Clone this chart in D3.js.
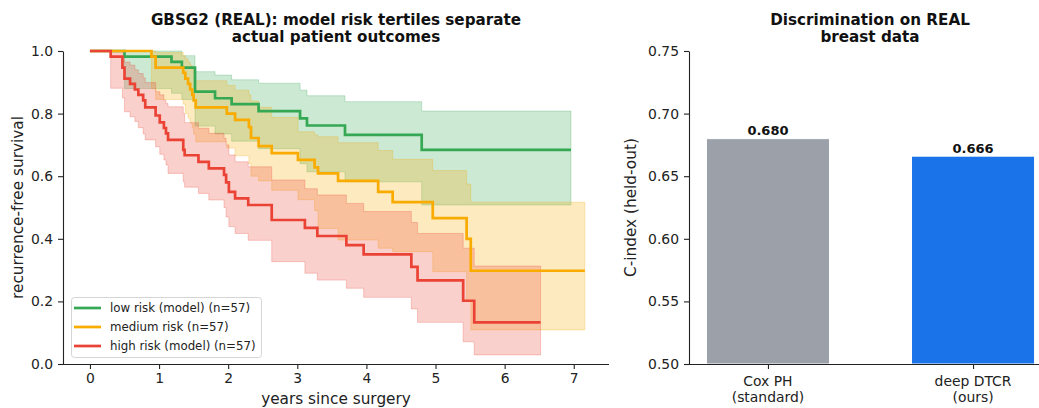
<!DOCTYPE html>
<html><head><meta charset="utf-8">
<script src="https://cdn.jsdelivr.net/npm/d3@7"></script>
<style>
html,body{margin:0;padding:0;background:#fff;}
svg{display:block;font-family:"DejaVu Sans",sans-serif;}
</style></head>
<body><svg id="c" width="1039" height="408"></svg>
<script>
// ---- data ----
const xTicks = [0, 1, 2, 3, 4, 5, 6, 7];
const yTicks = [0.0, 0.2, 0.4, 0.6, 0.8, 1.0];

const lowT  = [0, 0.50, 1.18, 1.33, 1.52, 1.81, 2.05, 2.44, 3.04, 3.14, 3.69, 4.80];
const lowS  = [1, 0.982, 0.965, 0.947, 0.870, 0.849, 0.830, 0.808, 0.785, 0.762, 0.732, 0.684];
const lowHi = [1, 1.0, 1.0, 0.985, 0.934, 0.923, 0.908, 0.897, 0.875, 0.857, 0.838, 0.808];
const lowLo = [1, 0.880, 0.865, 0.845, 0.760, 0.735, 0.712, 0.688, 0.640, 0.614, 0.582, 0.508];
const lowEnd = 6.96;

const medT  = [0, 0.89, 0.95, 1.35, 1.38, 1.42, 1.45, 1.48, 1.50, 1.53, 1.98, 2.10, 2.30, 2.33, 2.44, 2.63, 3.01, 3.25, 3.30, 3.59, 4.17, 4.38, 4.96, 5.45, 5.51];
const medS  = [1, 0.982, 0.947, 0.930, 0.912, 0.895, 0.877, 0.860, 0.842, 0.820, 0.800, 0.780, 0.757, 0.722, 0.696, 0.674, 0.652, 0.628, 0.609, 0.585, 0.550, 0.517, 0.466, 0.400, 0.298];
const medHi = [1, 1.0, 0.995, 0.985, 0.975, 0.965, 0.955, 0.945, 0.930, 0.905, 0.890, 0.875, 0.860, 0.840, 0.820, 0.788, 0.742, 0.732, 0.726, 0.707, 0.682, 0.654, 0.618, 0.575, 0.517];
const medLo = [1, 0.880, 0.845, 0.830, 0.800, 0.785, 0.770, 0.755, 0.735, 0.710, 0.690, 0.665, 0.640, 0.600, 0.585, 0.555, 0.525, 0.490, 0.433, 0.396, 0.370, 0.359, 0.295, 0.200, 0.109];
const medEnd = 7.16;

const highT  = [0, 0.30, 0.47, 0.50, 0.58, 0.65, 0.70, 0.77, 0.80, 0.95, 1.01, 1.07, 1.10, 1.13, 1.35, 1.37, 1.57, 1.72, 1.94, 1.97, 2.01, 2.10, 2.29, 2.63, 3.11, 3.29, 3.71, 3.96, 4.65, 4.74, 5.40, 5.56];
const highS  = [1, 0.982, 0.947, 0.912, 0.895, 0.877, 0.860, 0.842, 0.820, 0.794, 0.772, 0.754, 0.737, 0.716, 0.684, 0.667, 0.646, 0.625, 0.604, 0.580, 0.550, 0.529, 0.508, 0.460, 0.435, 0.409, 0.380, 0.350, 0.310, 0.267, 0.202, 0.133];
const highHi = [1, 1.0, 0.990, 0.965, 0.955, 0.940, 0.928, 0.914, 0.899, 0.870, 0.860, 0.843, 0.832, 0.822, 0.800, 0.771, 0.753, 0.737, 0.721, 0.700, 0.668, 0.646, 0.630, 0.588, 0.560, 0.540, 0.513, 0.487, 0.452, 0.417, 0.370, 0.313];
const highLo = [1, 0.881, 0.850, 0.806, 0.790, 0.775, 0.755, 0.735, 0.716, 0.694, 0.670, 0.652, 0.636, 0.609, 0.582, 0.565, 0.545, 0.524, 0.500, 0.470, 0.439, 0.417, 0.395, 0.327, 0.290, 0.268, 0.242, 0.213, 0.176, 0.133, 0.071, 0.029];
const highEnd = 6.52;

const groupNames = ["low risk (model) (n=57)", "medium risk (n=57)", "high risk (model) (n=57)"];
const groupColors = ["#34a853", "#f9ab00", "#ea4335"];

const models = ["Cox PH|(standard)", "deep DTCR|(ours)"];
const cIndex = [0.680, 0.666];
const barColors = ["#9ca0a8", "#1a73e8"];
const cTicks = [0.50, 0.55, 0.60, 0.65, 0.70, 0.75];

// ---- drawing ----
const svg = d3.select("#c");
const TICKFONT = 13.9, LABELFONT = 15.3, TITLEFONT = 15.2;

// Left panel
const L = {left: 63, right: 609, top: 51, bottom: 364};
const x = d3.scaleLinear().domain([-0.39, 7.51]).range([L.left, L.right]);
const y = d3.scaleLinear().domain([0, 1]).range([L.bottom, L.top]);

function build(T, S, Lo, Hi, end) {
  const pts = T.map((t, i) => ({t, s: S[i], lo: Lo[i], hi: Hi[i]}));
  const last = pts[pts.length - 1];
  pts.push({t: end, s: last.s, lo: last.lo, hi: last.hi});
  return pts;
}
const groups = [
  build(lowT, lowS, lowLo, lowHi, lowEnd),
  build(medT, medS, medLo, medHi, medEnd),
  build(highT, highS, highLo, highHi, highEnd)
];

const area = d3.area().curve(d3.curveStepAfter)
  .x(d => x(d.t)).y0(d => y(d.lo)).y1(d => y(d.hi));
const line = d3.line().curve(d3.curveStepAfter)
  .x(d => x(d.t)).y(d => y(d.s));

const gL = svg.append("g");
groups.forEach((g, i) => {
  gL.append("path").attr("d", area(g))
    .attr("fill", groupColors[i]).attr("fill-opacity", 0.25)
    .attr("stroke", groupColors[i]).attr("stroke-opacity", 0.25).attr("stroke-width", 1);
});
groups.forEach((g, i) => {
  gL.append("path").attr("d", line(g))
    .attr("fill", "none").attr("stroke", groupColors[i]).attr("stroke-width", 2.7);
});

// axes left
const axB = svg.append("g").attr("transform", `translate(0,${L.bottom})`)
  .call(d3.axisBottom(x).tickValues(xTicks).tickFormat(d3.format("d")).tickSize(5).tickPadding(4.5).tickSizeOuter(0));
axB.select(".domain").attr("d", `M${L.left},0.5H${L.right}`);
const axL = svg.append("g").attr("transform", `translate(${L.left},0)`)
  .call(d3.axisLeft(y).tickValues(yTicks).tickFormat(d3.format(".1f")).tickSize(5).tickPadding(5).tickSizeOuter(0));
[axB, axL].forEach(a => {
  a.selectAll("text").attr("font-size", TICKFONT).attr("font-family", "DejaVu Sans").attr("fill", "#222");
  a.selectAll("line,.domain").attr("stroke", "#222").attr("stroke-width", 1.1);
});

svg.append("text").attr("x", (L.left + L.right) / 2).attr("y", 404)
  .attr("text-anchor", "middle").attr("font-size", LABELFONT).attr("fill", "#222").text("years since surgery");
svg.append("text").attr("transform", `translate(22.5,${(L.top + L.bottom) / 2}) rotate(-90)`)
  .attr("text-anchor", "middle").attr("font-size", LABELFONT).attr("fill", "#222").text("recurrence-free survival");

const t1 = svg.append("text").attr("text-anchor", "middle")
  .attr("font-size", TITLEFONT).attr("font-weight", "bold").attr("fill", "#111");
t1.append("tspan").attr("x", (L.left + L.right) / 2).attr("y", 25).text("GBSG2 (REAL): model risk tertiles separate");
t1.append("tspan").attr("x", (L.left + L.right) / 2).attr("y", 42).text("actual patient outcomes");

// legend
const lg = svg.append("g").attr("transform", "translate(71,297)");
lg.append("rect").attr("x", 0.5).attr("y", 0.5).attr("width", 190).attr("height", 60).attr("rx", 3)
  .attr("fill", "#fff").attr("fill-opacity", 0.85).attr("stroke", "#d5d5d5").attr("stroke-width", 1);
groupNames.forEach((n, i) => {
  const yy = 11 + i * 19;
  lg.append("line").attr("x1", 3).attr("x2", 30).attr("y1", yy).attr("y2", yy)
    .attr("stroke", groupColors[i]).attr("stroke-width", 2.7);
  lg.append("text").attr("x", 39).attr("y", yy + 4.3).attr("font-size", 11.8).attr("fill", "#222").text(n);
});

// Right panel
const R = {left: 689, right: 1052, top: 51, bottom: 364};
const xb = d3.scaleLinear().domain([-0.385, 1.385]).range([R.left, R.right]);
const yb = d3.scaleLinear().domain([0.5, 0.75]).range([R.bottom, R.top]);

const gR = svg.append("g");
cIndex.forEach((v, i) => {
  gR.append("rect").attr("x", xb(i - 0.3)).attr("width", xb(i + 0.3) - xb(i - 0.3))
    .attr("y", yb(v)).attr("height", yb(0.5) - yb(v))
    .attr("fill", barColors[i]).attr("stroke", "#fff").attr("stroke-width", 1);
  gR.append("text").attr("x", xb(i)).attr("y", yb(v) - 3.5).attr("text-anchor", "middle")
    .attr("font-size", 13).attr("font-weight", "bold").attr("fill", "#111").text(v.toFixed(3));
});

const axRB = svg.append("g").attr("transform", `translate(0,${R.bottom})`)
  .call(d3.axisBottom(xb).tickValues([0, 1]).tickFormat("").tickSize(5).tickSizeOuter(0));
axRB.select(".domain").attr("d", `M${R.left},0.5H${R.right}`);
models.forEach((m, i) => {
  const parts = m.split("|");
  const tx = svg.append("text").attr("text-anchor", "middle").attr("font-size", TICKFONT).attr("fill", "#222");
  parts.forEach((p, k) => tx.append("tspan").attr("x", xb(i)).attr("y", 386 + k * 16).text(p));
});
const axRL = svg.append("g").attr("transform", `translate(${R.left},0)`)
  .call(d3.axisLeft(yb).tickValues(cTicks).tickFormat(d3.format(".2f")).tickSize(5).tickPadding(5).tickSizeOuter(0));
[axRB, axRL].forEach(a => {
  a.selectAll("text").attr("font-size", TICKFONT).attr("font-family", "DejaVu Sans").attr("fill", "#222");
  a.selectAll("line,.domain").attr("stroke", "#222").attr("stroke-width", 1.1);
});
svg.append("text").attr("transform", `translate(636,${(R.top + R.bottom) / 2}) rotate(-90)`)
  .attr("text-anchor", "middle").attr("font-size", LABELFONT).attr("fill", "#222").text("C-index (held-out)");

const t2 = svg.append("text").attr("text-anchor", "middle").attr("font-size", TITLEFONT).attr("font-weight", "bold").attr("fill", "#111");
t2.append("tspan").attr("x", 870).attr("y", 25).text("Discrimination on REAL");
t2.append("tspan").attr("x", 870).attr("y", 42).text("breast data");
</script></body></html>
